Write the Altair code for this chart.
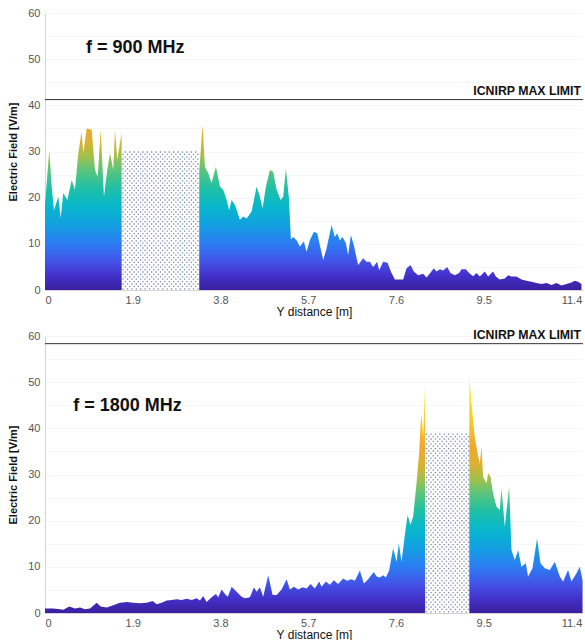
import altair as alt
import numpy as np
import pandas as pd

# ---- measured field profiles (distance in m, field in V/m) ----
# 900 MHz, left of the shielded block
TOP_LEFT_X = [0.0, 0.093, 0.145, 0.195, 0.288, 0.340, 0.396, 0.483, 0.578, 0.649,
              0.721, 0.794, 0.829, 0.903, 1.011, 1.082, 1.141, 1.206, 1.277, 1.348,
              1.407, 1.478, 1.515, 1.565, 1.660]
TOP_LEFT_E = [18.5, 30.3, 22.4, 17.3, 20.2, 15.6, 21.0, 19.5, 23.8, 21.7,
              29.7, 34.3, 29.7, 35.0, 34.7, 26.0, 24.5, 34.7, 20.2, 26.0,
              29.7, 26.0, 34.7, 28.2, 34.0]
# 900 MHz, right of the shielded block
TOP_RIGHT_X = [3.340, 3.413, 3.463, 3.535, 3.608, 3.701, 3.788, 3.859, 3.933, 3.989,
               4.041, 4.113, 4.221, 4.292, 4.366, 4.474, 4.582, 4.654, 4.712, 4.784,
               4.870, 4.942, 5.015, 5.102, 5.158, 5.216, 5.281, 5.325, 5.374, 5.448,
               5.519, 5.606, 5.664, 5.736, 5.823, 5.894, 5.968, 6.024, 6.097, 6.206,
               6.277, 6.327, 6.385, 6.444, 6.515, 6.565, 6.623, 6.688, 6.781, 6.890,
               6.963, 7.035, 7.106, 7.193, 7.236, 7.323, 7.418, 7.489, 7.576, 7.684,
               7.755, 7.829, 7.916, 7.987, 8.080, 8.188, 8.262, 8.333, 8.420, 8.478,
               8.550, 8.621, 8.708, 8.781, 8.874, 8.968, 9.019, 9.113, 9.184, 9.271,
               9.344, 9.416, 9.524, 9.595, 9.703, 9.762, 9.848, 9.957, 10.028, 10.102,
               10.210, 10.318, 10.426, 10.535, 10.643, 10.751, 10.859, 10.968, 11.076, 11.184,
               11.292, 11.400, 11.472, 11.543, 11.617]
TOP_RIGHT_E = [26.0, 35.7, 26.7, 25.3, 23.2, 26.7, 22.4, 21.7, 19.5, 17.3,
               19.5, 18.4, 15.2, 15.9, 15.5, 17.0, 22.4, 20.2, 17.7, 22.4,
               26.0, 25.6, 21.7, 19.5, 20.2, 26.3, 20.0, 11.0, 11.5, 10.8,
               9.4, 10.5, 8.3, 10.8, 12.6, 12.3, 9.0, 6.5, 9.0, 14.1,
               11.5, 12.3, 10.8, 11.5, 10.1, 7.6, 11.9, 9.7, 5.4, 6.9,
               6.1, 6.1, 5.0, 6.1, 4.3, 6.1, 5.9, 4.0, 2.3, 2.3,
               2.3, 4.7, 5.4, 4.0, 3.2, 3.5, 2.7, 3.6, 4.7, 4.0,
               4.5, 4.2, 5.0, 3.7, 3.2, 3.7, 4.5, 4.5, 3.7, 3.0,
               3.7, 2.9, 4.0, 2.9, 4.0, 2.9, 2.3, 2.5, 3.2, 2.9,
               2.9, 2.3, 2.0, 1.8, 1.5, 1.3, 1.5, 1.1, 1.5, 1.0,
               1.3, 1.6, 2.0, 1.8, 1.3]

# 1800 MHz, left of the shielded block
BOT_LEFT_X = [0.0, 0.180, 0.325, 0.396, 0.526, 0.649, 0.758, 0.866, 0.974, 1.119,
              1.206, 1.335, 1.478, 1.623, 1.768, 1.911, 2.056, 2.201, 2.331, 2.418,
              2.526, 2.634, 2.742, 2.851, 2.959, 3.067, 3.175, 3.284, 3.355, 3.426,
              3.500, 3.608, 3.701, 3.751, 3.825, 3.896, 3.960, 4.041, 4.149, 4.258,
              4.329, 4.437, 4.524, 4.582, 4.654, 4.725, 4.833, 4.929, 5.015, 5.123,
              5.232, 5.303, 5.390, 5.483, 5.578, 5.665, 5.751, 5.844, 5.937, 5.989,
              6.082, 6.169, 6.255, 6.348, 6.457, 6.543, 6.638, 6.710, 6.818, 6.905,
              6.998, 7.050, 7.121, 7.180, 7.251, 7.323, 7.381, 7.452, 7.539, 7.613,
              7.662, 7.721, 7.792, 7.851, 7.916, 7.972, 8.045, 8.102, 8.132, 8.154,
              8.188, 8.232]
BOT_LEFT_E = [1.0, 1.0, 0.8, 0.7, 1.4, 1.0, 1.2, 0.8, 1.0, 2.2,
              1.4, 1.2, 1.7, 2.2, 2.4, 2.2, 2.1, 2.2, 2.6, 1.9,
              2.2, 2.7, 2.8, 3.0, 2.8, 3.1, 2.8, 3.2, 2.7, 3.7,
              2.4, 3.4, 4.1, 3.4, 5.1, 4.1, 3.5, 5.7, 4.6, 3.5,
              3.2, 3.4, 5.6, 4.6, 5.6, 3.5, 8.2, 3.9, 3.9, 5.1,
              7.3, 5.1, 5.7, 5.1, 5.6, 5.3, 6.3, 5.3, 6.8, 5.7,
              6.8, 6.1, 7.1, 6.3, 7.5, 7.0, 7.3, 7.0, 9.2, 6.4,
              7.3, 8.0, 8.9, 7.9, 7.7, 8.2, 7.7, 9.2, 14.0, 11.1,
              15.1, 11.1, 16.9, 21.2, 19.1, 20.9, 28.1, 34.6, 41.0, 43.2,
              38.2, 49.7]
# 1800 MHz, right of the shielded block
BOT_RIGHT_X = [9.188, 9.236, 9.307, 9.379, 9.416, 9.452, 9.488, 9.561, 9.596, 9.647,
               9.704, 9.777, 9.848, 9.885, 9.957, 10.050, 10.102, 10.173, 10.245, 10.318,
               10.411, 10.461, 10.556, 10.656, 10.729, 10.823, 10.931, 11.039, 11.147, 11.219,
               11.327, 11.400, 11.509, 11.580, 11.640]
BOT_RIGHT_E = [51.2, 45.4, 38.0, 34.0, 32.4, 36.0, 29.5, 28.1, 30.3, 29.5,
               25.9, 23.0, 22.3, 27.0, 18.7, 27.4, 13.6, 11.5, 13.6, 10.0,
               10.8, 7.9, 9.7, 16.2, 10.8, 9.7, 9.3, 11.1, 7.9, 6.8,
               9.3, 6.8, 8.6, 10.0, 7.1]

# shielded blocks: start [m], end [m], height [V/m]
TOP_BLOCK = [1.667, 3.323, 30.3]
BOT_BLOCK = [8.240, 9.184, 39.0]

# ICNIRP reference levels [V/m]
LIMIT_900 = 41.25
LIMIT_1800 = 58.34

TOP_LABEL = "f = 900 MHz"
BOT_LABEL = "f = 1800 MHz"
LIMIT_LABEL = "ICNIRP MAX LIMIT"

X_TICKS = [0, 1.9, 3.8, 5.7, 7.6, 9.5, 11.4]
Y_TICKS = list(range(0, 61, 5))

# ---- styling ----
FONT = "Liberation Sans"
W, H = 538, 277
X_DOMAIN = [0, 11.65]

# parula-like colour ramp on absolute field strength
RAMP_V = [0, 3, 6, 10, 14, 18, 22, 26, 29, 32, 36, 41, 46, 51.5]
RAMP_C = ["#3b1f9e", "#4230c8", "#4450e6", "#2c7cf2", "#139fe2", "#07b7cc",
          "#1fc0a6", "#5cc47b", "#a2c04a", "#d9b232", "#f1a82c", "#f6c62a",
          "#f5e322", "#f8f812"]


def _rgb(h):
    return np.array([int(h[i:i + 2], 16) for i in (1, 3, 5)], dtype=float)


def ramp_color(v):
    for i in range(len(RAMP_V) - 1):
        if RAMP_V[i] <= v <= RAMP_V[i + 1]:
            t = (v - RAMP_V[i]) / (RAMP_V[i + 1] - RAMP_V[i])
            c = _rgb(RAMP_C[i]) * (1 - t) + _rgb(RAMP_C[i + 1]) * t
            return "#%02x%02x%02x" % tuple(int(round(k)) for k in c)
    return RAMP_C[-1]


def gradient(vmax):
    stops = [alt.GradientStop(offset=v / vmax, color=c)
             for v, c in zip(RAMP_V, RAMP_C) if v < vmax]
    stops.append(alt.GradientStop(offset=1, color=ramp_color(vmax)))
    return alt.LinearGradient(gradient="linear", stops=stops, x1=0, x2=0, y1=1, y2=0)


def xenc():
    return alt.X("x:Q", scale=alt.Scale(domain=X_DOMAIN, nice=False, zero=False),
                 axis=alt.Axis(values=X_TICKS, format=".1~f", title="Y distance [m]",
                               grid=False, ticks=False, labelPadding=4, titlePadding=1,
                               domainColor="#d4d4d4", titleFontWeight="normal",
                               titleFontSize=12))


def yenc():
    return alt.Y("y:Q", scale=alt.Scale(domain=[0, 60], nice=False),
                 axis=alt.Axis(values=Y_TICKS,
                               labelExpr="datum.value % 10 === 0 ? datum.label : ''",
                               title="Electric Field [V/m]", grid=True,
                               gridColor="#f6f6f6", ticks=False, labelPadding=5,
                               titlePadding=9, domainColor="#d4d4d4",
                               titleFontWeight="bold", titleFontSize=11))


def area(xs, es):
    df = pd.DataFrame({"x": xs, "y": es})
    return alt.Chart(df).mark_area(color=gradient(max(es)), interpolate="linear").encode(
        x=xenc(), y=yenc())


def dots(block):
    # stippled fill of the shielded block
    x0, x1, top = block
    dx, dy = 4.4 / (W / (X_DOMAIN[1] - X_DOMAIN[0])), 2.4 / (H / 60.0)
    px, py = [], []
    row = 0
    y = dy / 2
    while y < top:
        x = x0 + dx / 4 + (dx / 2 if row % 2 else 0)
        while x < x1:
            px.append(x)
            py.append(y)
            x += dx
        y += dy
        row += 1
    df = pd.DataFrame({"x": px, "y": py})
    return alt.Chart(df).mark_square(size=1.6, color="#6a7aa6", opacity=0.9).encode(
        x=xenc(), y=yenc())


def panel(segments, block, limit, label, label_xy):
    layers = [area(xs, es) for xs, es in segments]
    layers.append(dots(block))
    lim = pd.DataFrame({"y": [limit], "t": [LIMIT_LABEL]})
    layers.append(alt.Chart(lim).mark_rule(color="#333333", strokeWidth=1).encode(y=yenc()))
    layers.append(alt.Chart(lim).mark_text(align="right", baseline="alphabetic", dy=-5,
                                           font=FONT, fontSize=12.3, fontWeight="bold",
                                           color="#111111").encode(
        x=alt.value(W - 2), y=yenc(), text="t:N"))
    lab = pd.DataFrame({"x": [label_xy[0]], "y": [label_xy[1]], "t": [label]})
    layers.append(alt.Chart(lab).mark_text(align="left", baseline="middle", font=FONT,
                                           fontSize=18, fontWeight="bold",
                                           color="#111111").encode(
        x=xenc(), y=yenc(), text="t:N"))
    return alt.layer(*layers).properties(width=W, height=H)


top = panel([(TOP_LEFT_X, TOP_LEFT_E), (TOP_RIGHT_X, TOP_RIGHT_E)], TOP_BLOCK,
            LIMIT_900, TOP_LABEL, (0.887, 52.4))
bottom = panel([(BOT_LEFT_X, BOT_LEFT_E), (BOT_RIGHT_X, BOT_RIGHT_E)], BOT_BLOCK,
               LIMIT_1800, BOT_LABEL, (0.613, 44.8))

chart = alt.vconcat(top, bottom, spacing=11).configure(
    padding={"left": 7, "top": 7, "right": 0, "bottom": 0}
).configure_view(stroke=None).configure_axis(
    labelFont=FONT, titleFont=FONT, labelFontSize=11, labelColor="#555555",
    titleColor="#111111"
)

chart.save("out.html", embed_options={"renderer": "svg", "actions": False})
